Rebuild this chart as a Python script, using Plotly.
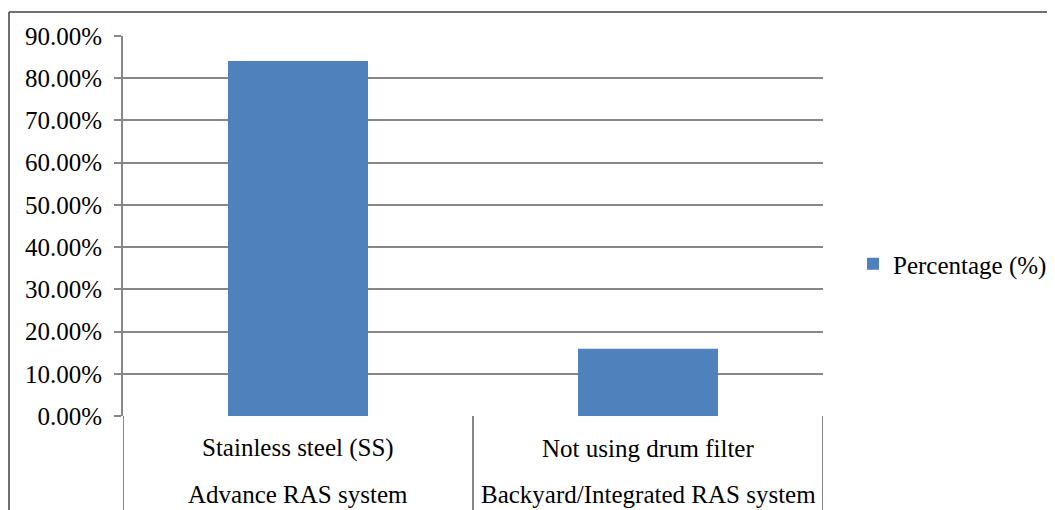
import plotly.graph_objects as go

categories = ["Stainless steel (SS)", "Not using drum filter"]
groups = ["Advance RAS system", "Backyard/Integrated RAS system"]
values = [0.841, 0.159]
series_name = "Percentage (%)"
tick_vals = [0, 0.1, 0.2, 0.3, 0.4, 0.5, 0.6, 0.7, 0.8, 0.9]

OFF = 8  # page body margin
W, H = 1055 - OFF, 510 - OFF
PL, PR, PT, PB = 123, 823, 36, 416  # plot area in screen pixels
pw, ph = PR - PL, PB - PT
L, T = PL - OFF, PT - OFF
R, B = W - (PR - OFF), H - (PB - OFF)

def px_x(px):
    return (px - PL) / pw

def px_y(py):
    return (PB - py) / ph

FONT = "Liberation Serif"
FS = 25
GRID = "#878787"

fig = go.Figure()
fig.add_trace(go.Bar(x=list(range(len(categories))), y=values, name=series_name,
                     marker=dict(color="#4F81BD", line=dict(width=0)), width=0.4,
                     showlegend=True))

fig.update_layout(
    width=W, height=H,
    margin=dict(l=L, r=R, t=T, b=B, pad=0, autoexpand=False),
    paper_bgcolor="white", plot_bgcolor="white",
    font=dict(family=FONT, size=FS, color="#000000"),
    showlegend=True,
    legend=dict(x=px_x(853), y=px_y(264), xanchor="left", yanchor="middle",
                font=dict(family=FONT, size=FS, color="#000000"),
                bgcolor="rgba(0,0,0,0)", itemwidth=30),
    xaxis=dict(range=[-0.5, len(categories) - 0.5], showticklabels=False,
               showgrid=False, zeroline=False, showline=False, ticks=""),
    yaxis=dict(range=[0, 0.9], tickvals=tick_vals, tickformat=".2%",
               showgrid=True, gridcolor=GRID, gridwidth=2,
               showline=True, linecolor=GRID, linewidth=2,
               ticks="outside", ticklen=7, tickwidth=2, tickcolor=GRID,
               zeroline=False, ticklabelstandoff=7,
               tickfont=dict(family=FONT, size=FS, color="#000000")),
)

shapes = []
for xv in [-0.5, 0.5, len(categories) - 0.5]:
    shapes.append(dict(type="line", xref="x", yref="paper", x0=xv, x1=xv,
                       y0=0, y1=px_y(520), line=dict(color=GRID, width=2)))
shapes.append(dict(type="line", xref="paper", yref="paper", x0=px_x(9), x1=px_x(1070),
                   y0=px_y(12), y1=px_y(12), line=dict(color="#404040", width=1.5)))
shapes.append(dict(type="line", xref="paper", yref="paper", x0=px_x(9), x1=px_x(9),
                   y0=px_y(12), y1=px_y(520), line=dict(color="#404040", width=1.5)))
fig.update_layout(shapes=shapes)

annotations = []
for i, (c, g) in enumerate(zip(categories, groups)):
    annotations.append(dict(x=i, y=px_y(448), xref="x", yref="paper", text=c,
                            showarrow=False, xanchor="center", yanchor="middle",
                            font=dict(family=FONT, size=FS, color="#000000")))
    annotations.append(dict(x=i, y=px_y(494), xref="x", yref="paper", text=g,
                            showarrow=False, xanchor="center", yanchor="middle",
                            font=dict(family=FONT, size=FS, color="#000000")))
fig.update_layout(annotations=annotations)

fig.write_html("out.html")
